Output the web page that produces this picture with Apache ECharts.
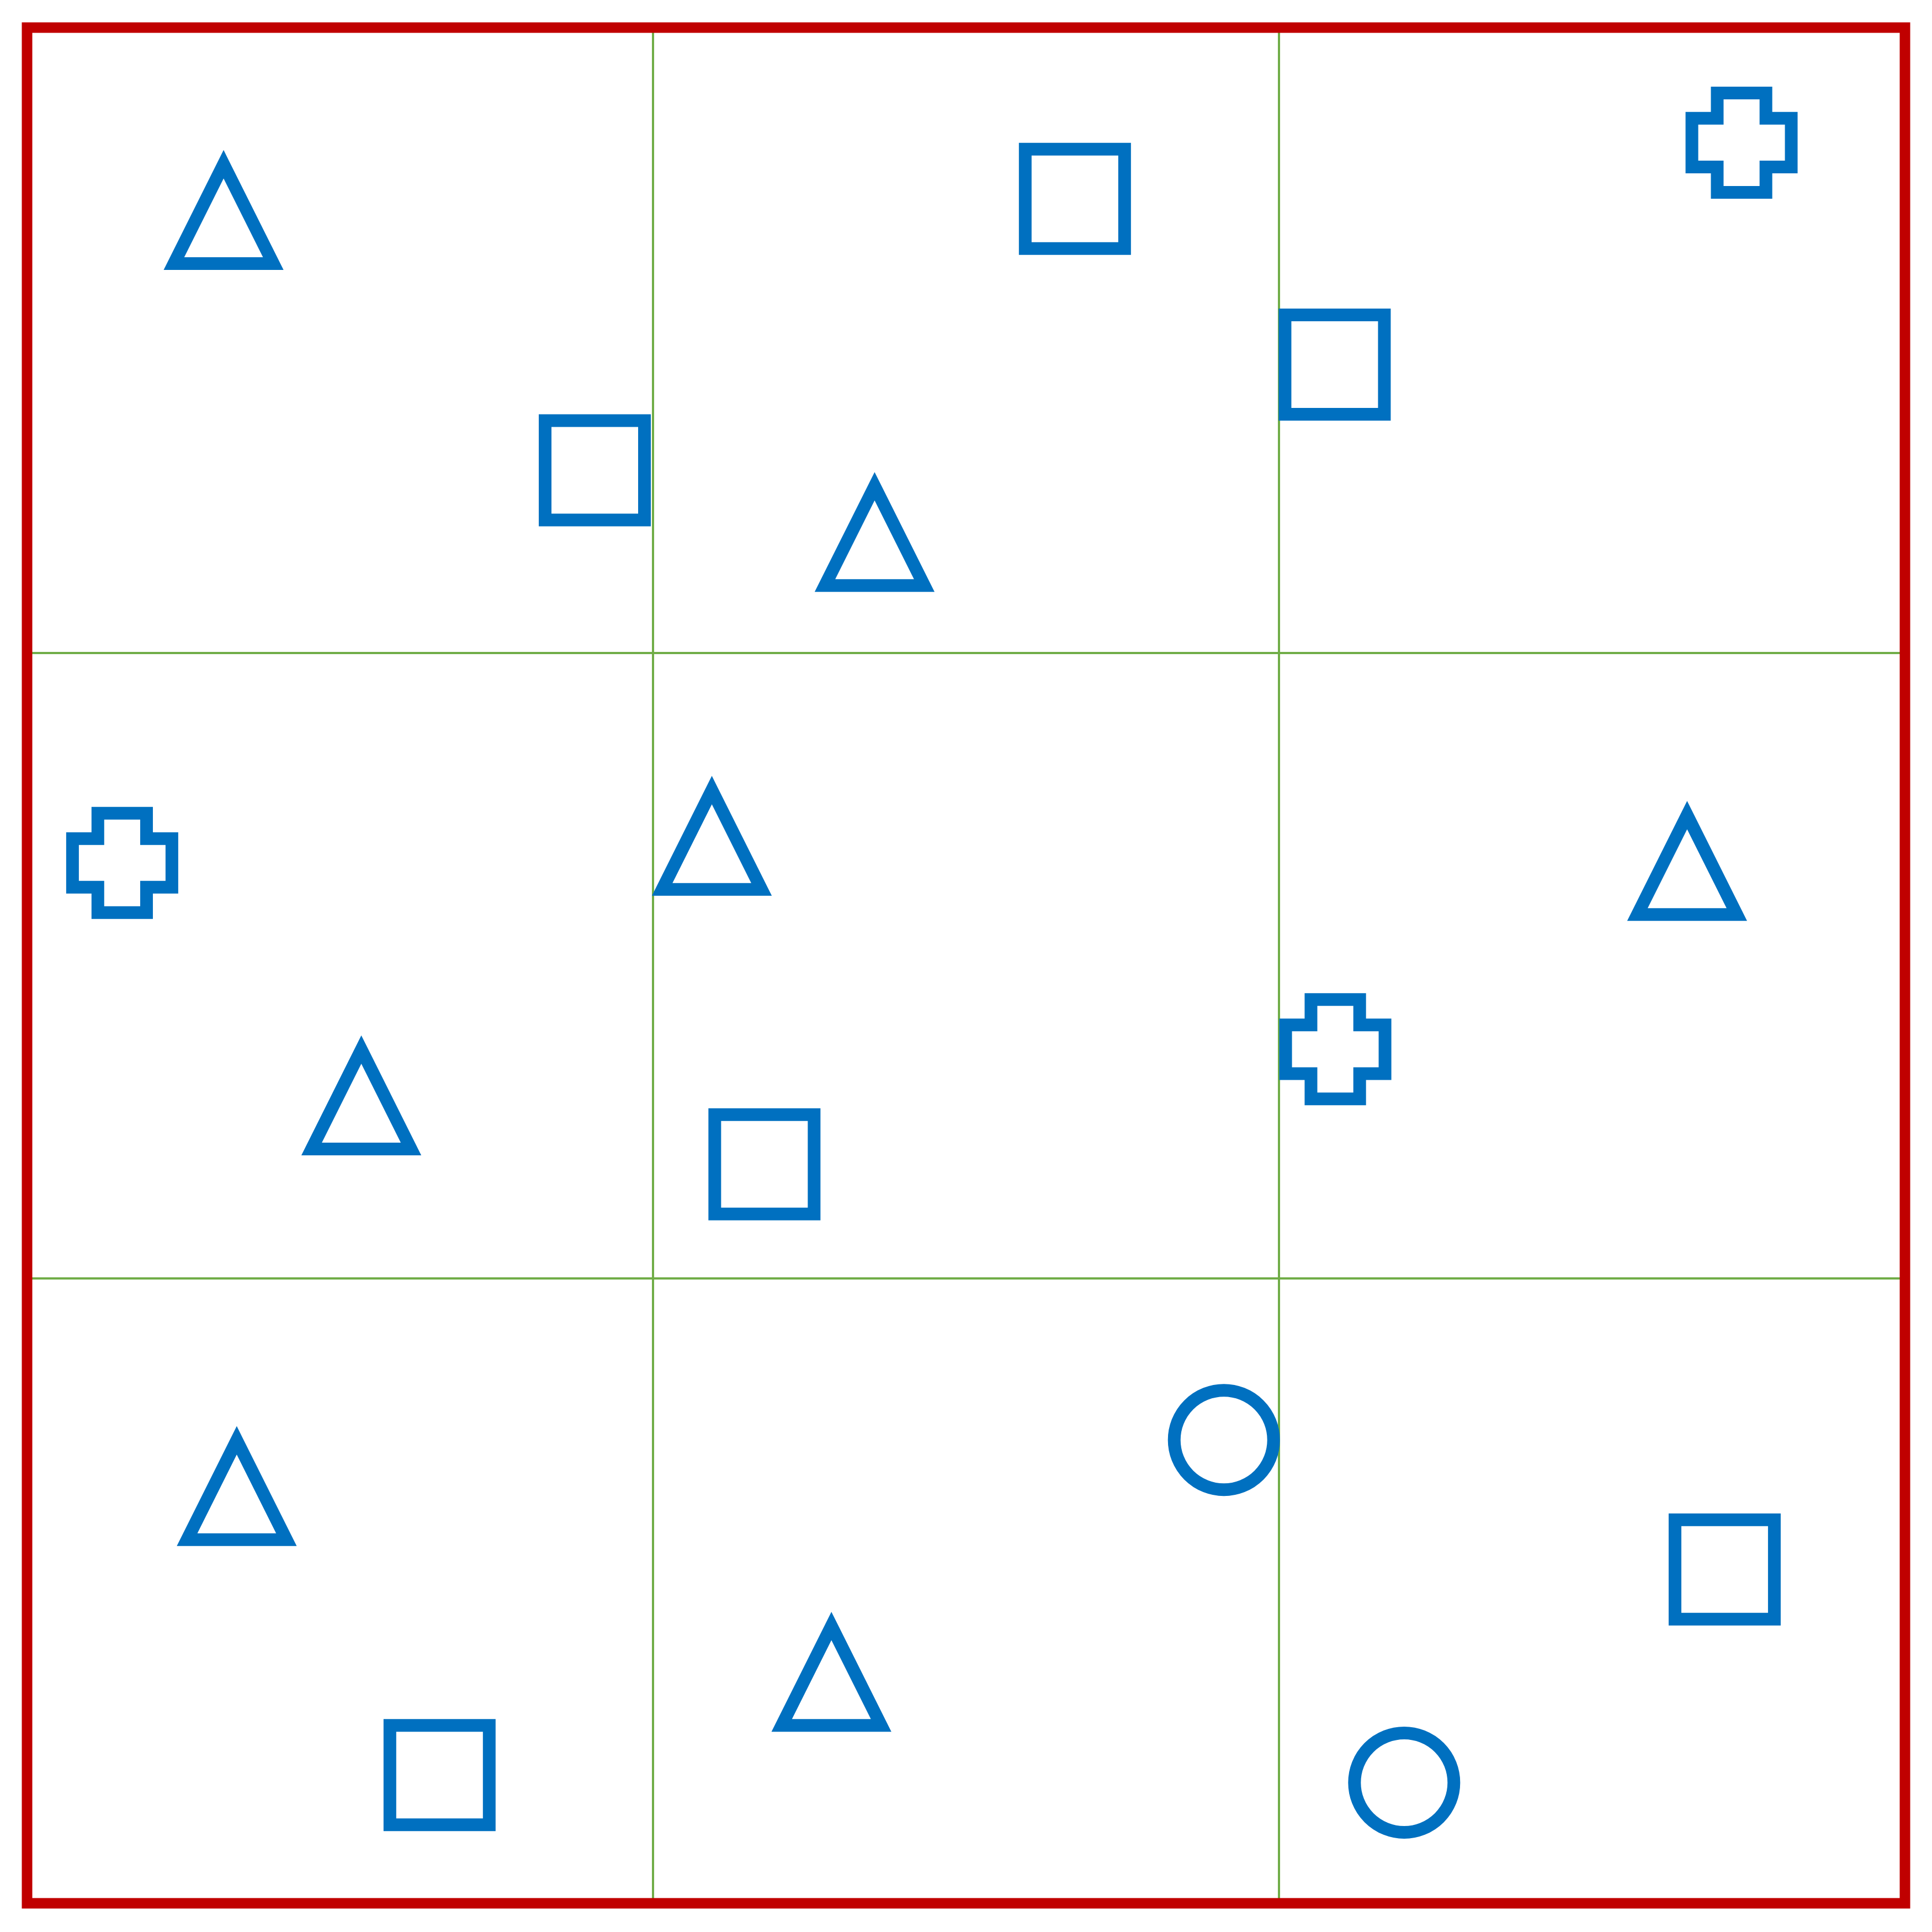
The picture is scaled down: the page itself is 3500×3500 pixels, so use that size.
<!DOCTYPE html>
<html>
<head>
<meta charset="utf-8">
<script src="https://cdn.jsdelivr.net/npm/echarts@6/dist/echarts.min.js"></script>
<style>
html,body{margin:0;padding:0;background:#fff;}
#chart{width:3500px;height:3500px;}
</style>
</head>
<body>
<div id="chart"></div>
<script>
// Axis extent and tick values (3 x 3 cells)
const axisTicks = [0, 1, 2, 3];

// Triangles
const triangleX = [0.314, 1.354, 1.094, 0.534, 2.652, 0.335, 1.285];
const triangleY = [2.702, 2.187, 1.701, 1.286, 1.661, 0.661, 0.364];
// Squares
const squareX = [0.907, 1.674, 2.089, 1.178, 0.659, 2.712];
const squareY = [2.292, 2.726, 2.461, 1.182, 0.205, 0.534];
// Crosses
const crossX = [2.739, 0.152, 2.090];
const crossY = [2.816, 1.664, 1.366];
// Circles
const circleX = [1.912, 2.200];
const circleY = [0.741, 0.193];

const crossPath = 'path://M25.5 0H74.5V25.5H100V74.5H74.5V100H25.5V74.5H0V25.5H25.5Z';

function pairs(xs, ys) { return xs.map((x, i) => [x, ys[i]]); }

const markStyle = {
  color: '#ffffff',
  borderColor: '#0070C0',
  borderWidth: 23,
  borderJoin: 'miter',
  borderMiterLimit: 10,
  opacity: 1
};

function makeSeries(name, symbol, xs, ys) {
  return {
    name: name,
    type: 'scatter',
    symbol: symbol,
    symbolSize: 180,
    data: pairs(xs, ys),
    itemStyle: markStyle,
    emphasis: { disabled: true },
    silent: true
  };
}

const axisCommon = {
  type: 'value',
  min: axisTicks[0],
  max: axisTicks[axisTicks.length - 1],
  interval: 1,
  axisLine: { show: false },
  axisTick: { show: false },
  axisLabel: { show: false },
  splitLine: { show: true, lineStyle: { color: '#70AD47', width: 4 } }
};

const chart = echarts.init(document.getElementById('chart'), null, { renderer: 'canvas' });
chart.setOption({
  animation: false,
  backgroundColor: '#ffffff',
  grid: {
    left: 49, right: 49, top: 50, bottom: 52,
    show: true,
    borderColor: '#C00000',
    borderWidth: 19,
    backgroundColor: 'transparent',
    z: 10
  },
  xAxis: axisCommon,
  yAxis: axisCommon,
  series: [
    makeSeries('Triangles', 'triangle', triangleX, triangleY),
    makeSeries('Squares', 'rect', squareX, squareY),
    makeSeries('Crosses', crossPath, crossX, crossY),
    makeSeries('Circles', 'circle', circleX, circleY)
  ]
});
</script>
</body>
</html>
